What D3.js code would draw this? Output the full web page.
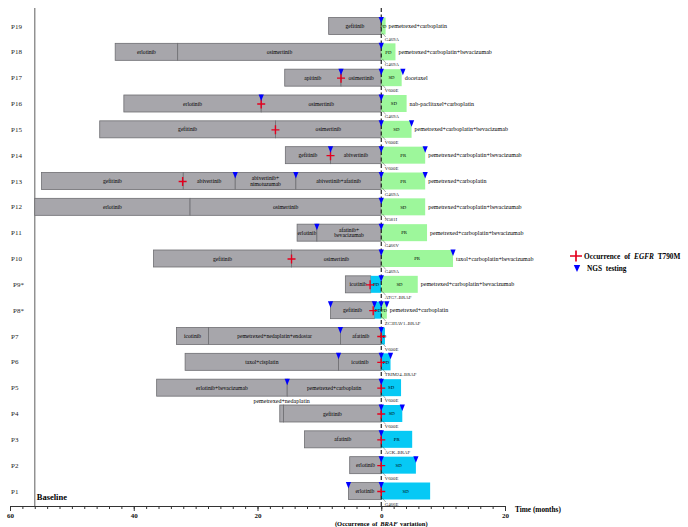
<!DOCTYPE html>
<html>
<head>
<meta charset="utf-8">
<script src="https://cdn.jsdelivr.net/npm/d3@7"></script>
<style>
body { margin: 0; background: #fff; }
svg text { font-family: 'Liberation Serif', 'Times New Roman', serif; }
</style>
</head>
<body>
<div id="canvas"></div>
<script>
// patients, top to bottom
var PATIENTS = ['P19', 'P18', 'P17', 'P16', 'P15', 'P14', 'P13', 'P12', 'P11', 'P10',
                'P9*', 'P8*', 'P7', 'P6', 'P5', 'P4', 'P3', 'P2', 'P1'];

// treatment lines before BRAF variation: [patient, start month, end month, drug]
var TREATMENTS = [
    ['P19', -8.5, 0, 'gefitinib'],
    ['P18', -43, -32.9, 'erlotinib'], ['P18', -32.9, 0, 'osimertinib'],
    ['P17', -15.6, -6.5, 'apitinib'], ['P17', -6.5, 0, 'osimertinib'],
    ['P16', -41.6, -19.4, 'erlotinib'], ['P16', -19.4, 0, 'osimertinib'],
    ['P15', -45.5, -17.1, 'gefitinib'], ['P15', -17.1, 0, 'osimertinib'],
    ['P14', -15.5, -8.2, 'gefitinib'], ['P14', -8.2, 0, 'abivertinib'],
    ['P13', -54.9, -32, 'gefitinib'], ['P13', -32, -23.6, 'abivertinib'],
    ['P13', -23.6, -13.8, 'abivertinib+\nnimotuzumab'], ['P13', -13.8, 0, 'abivertinib+afatinib'],
    ['P12', -56, -30.9, 'erlotinib'], ['P12', -30.9, 0, 'osimertinib'],
    ['P11', -13.6, -10.4, 'erlotinib'], ['P11', -10.4, 0, 'afatinib+\nbevacizumab'],
    ['P10', -36.8, -14.5, 'gefitinib'], ['P10', -14.5, 0, 'osimertinib'],
    ['P9*', -5.8, -1.7, 'icotinib'],
    ['P8*', -8.2, -1.1, 'gefitinib'],
    ['P7', -33.1, -27.9, 'icotinib'], ['P7', -27.9, -6.6, 'pemetrexed+nedaplatin+endostar'], ['P7', -6.6, 0, 'afatinib'],
    ['P6', -31.7, -6.9, 'taxol+cisplatin'], ['P6', -6.9, 0, 'icotinib'],
    ['P5', -36.3, -15.2, 'erlotinib+bevacizumab'], ['P5', -15.2, 0, 'pemetrexed+carboplatin'],
    ['P4', -16.4, -15.8, 'pemetrexed+nedaplatin'], ['P4', -15.8, 0, 'gefitinib'],
    ['P3', -12.4, 0, 'afatinib'],
    ['P2', -5.1, 0, 'erlotinib'],
    ['P1', -5.3, 0, 'erlotinib']
];

// short segments whose name is written above the bar
var ABOVE_LABELS = ['pemetrexed+nedaplatin'];

// response segments: [patient, start, end, response, kind]
var RESPONSES = [
    ['P19', 0, 0.7, 'PD', 'g'], ['P18', 0, 2.3, 'PD', 'g'], ['P17', 0, 3.3, 'SD', 'g'],
    ['P16', 0, 4.1, 'SD', 'g'], ['P15', 0, 4.9, 'SD', 'g'], ['P14', 0, 7.1, 'PR', 'g'],
    ['P13', 0, 7.1, 'PR', 'g'], ['P12', 0, 7.1, 'SD', 'g'], ['P11', 0, 7.4, 'PR', 'g'],
    ['P10', 0, 11.6, 'PR', 'g'],
    ['P9*', -1.7, 0, 'PD', 'b'], ['P9*', 0, 5.9, 'SD', 'g'],
    ['P8*', -1.1, 0, 'PD', 'b'], ['P8*', 0, 0.9, 'PD', 'g'],
    ['P7', 0, 0.6, 'PD', 'b'], ['P6', 0, 1.5, 'PD', 'b'], ['P5', 0, 3.2, 'SD', 'b'],
    ['P4', 0, 3.4, 'SD', 'b'], ['P3', 0, 5.0, 'PR', 'b'], ['P2', 0, 5.6, 'SD', 'b'],
    ['P1', 0, 7.9, 'SD', 'b']
];

// subsequent therapy after BRAF variation
var NEXT_LINES = [
    ['P19', 'pemetrexed+carboplatin'], ['P18', 'pemetrexed+carboplatin+bevacizumab'],
    ['P17', 'docetaxel'], ['P16', 'nab-paclitaxel+carboplatin'],
    ['P15', 'pemetrexed+carboplatin+bevacizumab'], ['P14', 'pemetrexed+carboplatin+bevacizumab'],
    ['P13', 'pemetrexed+carboplatin'], ['P12', 'pemetrexed+carboplatin+bevacizumab'],
    ['P11', 'pemetrexed+carboplatin+bevacizumab'], ['P10', 'taxol+carboplatin+bevacizumab'],
    ['P9*', 'pemetrexed+carboplatin+bevacizumab'], ['P8*', 'pemetrexed+carboplatin']
];

// BRAF variation found at month 0
var VARIANTS = [
    ['P19', 'G469A'], ['P18', 'G469A'], ['P17', 'V600E'], ['P16', 'G469A'], ['P15', 'V600E'],
    ['P14', 'V600E'], ['P13', 'G469A'], ['P12', 'N581I'], ['P11', 'G466V'], ['P10', 'G469A'],
    ['P9*', 'ATG7\u2013BRAF'], ['P8*', 'ZC3HAV1\u2013BRAF'], ['P7', 'V600E'], ['P6', 'TRIM24\u2013BRAF'],
    ['P5', 'V600E'], ['P4', 'V600E'], ['P3', 'AGK\u2013BRAF'], ['P2', 'V600E'], ['P1', 'G466E']
];

// NGS testing time points
var NGS = [
    ['P19', 0], ['P18', 0], ['P17', -6.5], ['P17', 0], ['P17', 3.5],
    ['P16', -19.4], ['P16', 0], ['P15', 0], ['P15', 4.9],
    ['P14', -8.2], ['P14', 0], ['P14', 7.1],
    ['P13', -23.6], ['P13', -13.8], ['P13', 0], ['P13', 7.1],
    ['P12', 0], ['P11', -10.4], ['P11', 0], ['P10', 0], ['P10', 11.6],
    ['P9*', 0], ['P8*', -8.2], ['P8*', -1.1], ['P8*', 0], ['P8*', 0.9],
    ['P7', -6.6], ['P7', 0], ['P6', -6.9], ['P6', 0], ['P6', 1.5],
    ['P5', -15.2], ['P5', 0], ['P4', 0], ['P4', 3.4], ['P3', 0],
    ['P2', 0], ['P2', 5.6], ['P1', -5.3], ['P1', 0]
];

// occurrence of EGFR T790M
var T790M = [
    ['P17', -6.5], ['P16', -19.4], ['P15', -17.1], ['P14', -8.2], ['P13', -32.1],
    ['P10', -14.5], ['P9*', -1.8], ['P8*', -1.3], ['P7', 0], ['P6', 0], ['P5', 0],
    ['P4', 0], ['P3', 0], ['P2', 0], ['P1', 0]
];

var MAJOR_TICKS = [-60, -40, -20, 0, 20];
var BASELINE = -56;

var WIDTH = 688, HEIGHT = 527;
var BAR_H = 17;
var GRAY = '#a7a6ab', GREEN = '#9df79b', BLUE = '#06c9f5';

var svg = d3.select('#canvas').append('svg')
    .attr('width', WIDTH)
    .attr('height', HEIGHT);

var x = d3.scaleLinear().domain([-60, 20]).range([10, 505]);
var y = d3.scalePoint().domain(PATIENTS).range([26, 491]);
var AXIS_Y = 506;

// baseline line
svg.append('line')
    .attr('x1', x(BASELINE)).attr('x2', x(BASELINE))
    .attr('y1', 8).attr('y2', AXIS_Y)
    .attr('stroke', '#8c8c8c').attr('stroke-width', 1.4);

svg.append('text')
    .attr('x', x(BASELINE) + 2).attr('y', 500)
    .style('font-size', '8.5px').style('font-weight', 'bold')
    .text('Baseline');

// row labels
svg.selectAll('.plabel').data(PATIENTS).enter().append('text')
    .attr('class', 'plabel')
    .attr('x', function(d) { return d.indexOf('*') >= 0 ? 13 : 11; })
    .attr('y', function(d) { return y(d) + 2.5; })
    .attr('fill', '#222')
    .style('font-size', '7px')
    .text(function(d) { return d; });

// treatment bars
var tg = svg.append('g');
TREATMENTS.forEach(function(t) {
    var cy = y(t[0]);
    tg.append('rect')
        .attr('x', x(t[1])).attr('y', cy - BAR_H / 2)
        .attr('width', x(t[2]) - x(t[1])).attr('height', BAR_H)
        .attr('fill', GRAY).attr('stroke', '#6e6e72').attr('stroke-width', 0.8);
    var lines = t[3].split('\n');
    var cx = (x(t[1]) + x(t[2])) / 2;
    if (ABOVE_LABELS.indexOf(t[3]) >= 0) {
        tg.append('text')
            .attr('x', cx).attr('y', cy - BAR_H / 2 - 2)
            .attr('text-anchor', 'middle')
            .style('font-size', '6px')
            .text(t[3]);
        return;
    }
    var txt = tg.append('text')
        .attr('text-anchor', 'middle')
        .style('font-size', '5.6px');
    lines.forEach(function(l, i) {
        txt.append('tspan')
            .attr('x', cx)
            .attr('y', cy + 2 + (i - (lines.length - 1) / 2) * 5.5)
            .text(l);
    });
});

// response bars
var rg = svg.append('g');
RESPONSES.forEach(function(r) {
    var cy = y(r[0]);
    rg.append('rect')
        .attr('x', x(r[1])).attr('y', cy - BAR_H / 2)
        .attr('width', x(r[2]) - x(r[1])).attr('height', BAR_H)
        .attr('fill', r[4] == 'g' ? GREEN : BLUE);
    rg.append('text')
        .attr('x', (x(r[1]) + x(r[2])) / 2).attr('y', cy + 1.8)
        .attr('text-anchor', 'middle')
        .style('font-size', '4.8px')
        .text(r[3]);
});

// next therapy text
NEXT_LINES.forEach(function(n) {
    var ends = RESPONSES.filter(function(r) { return r[0] == n[0]; }).map(function(r) { return r[2]; });
    svg.append('text')
        .attr('x', x(d3.max(ends)) + 3).attr('y', y(n[0]) + 2)
        .style('font-size', '6px')
        .text(n[1]);
});

// dashed line at BRAF variation
svg.append('line')
    .attr('x1', x(0)).attr('x2', x(0))
    .attr('y1', 8).attr('y2', AXIS_Y)
    .attr('stroke', '#111').attr('stroke-width', 1.1)
    .attr('stroke-dasharray', '4,2.5');

// variant labels
VARIANTS.forEach(function(v) {
    var cy = y(v[0]);
    svg.append('line')
        .attr('x1', x(0) + 1).attr('y1', cy + 7)
        .attr('x2', x(0) + 4.5).attr('y2', cy + 11)
        .attr('stroke', '#555').attr('stroke-width', 0.5);
    svg.append('text')
        .attr('x', x(0) + 3.5).attr('y', cy + 14.5)
        .style('font-size', '4.8px').attr('fill', '#222')
        .text(v[1]);
});

// T790M crosses
T790M.forEach(function(c) {
    svg.append('path')
        .attr('transform', 'translate(' + x(c[1]) + ',' + (y(c[0]) + 0.5) + ')')
        .attr('d', 'M-4,0H4M0,-4.5V4.5')
        .attr('stroke', '#e3001e').attr('stroke-width', 1.4);
});

// NGS triangles
NGS.forEach(function(n) {
    svg.append('path')
        .attr('transform', 'translate(' + x(n[1]) + ',' + (y(n[0]) - BAR_H / 2 - 0.5) + ')')
        .attr('d', 'M-2.6,0L2.6,0L0,6.5Z')
        .attr('fill', '#0000ff');
});

// x axis: minor and major ticks
var minor = d3.range(-60, 21, 2);
svg.append('g')
    .attr('transform', 'translate(0,' + AXIS_Y + ')')
    .call(d3.axisBottom(x).tickValues(minor).tickSize(3).tickSizeOuter(0).tickFormat(''))
    .call(function(g) {
        g.select('.domain').attr('stroke', '#333').attr('stroke-width', 1.2);
        g.selectAll('.tick line').attr('stroke', '#333').attr('stroke-width', 1);
    });

svg.append('g')
    .attr('transform', 'translate(0,' + AXIS_Y + ')')
    .call(d3.axisBottom(x).tickValues(MAJOR_TICKS).tickSize(5).tickFormat(function(d) { return Math.abs(d); }))
    .call(function(g) {
        g.select('.domain').remove();
        g.selectAll('.tick line').attr('stroke', '#333').attr('stroke-width', 1);
        g.selectAll('.tick text')
            .attr('y', 7)
            .style('font-family', "'Liberation Serif', serif")
            .style('font-size', '7px').style('font-weight', 'bold').attr('fill', '#111');
    });

var occ = svg.append('text')
    .attr('x', x(0)).attr('y', 525.5)
    .attr('text-anchor', 'middle')
    .style('font-size', '6.5px').style('font-weight', 'bold')
    .style('word-spacing', '1px');
occ.append('tspan').text('(Occurrence of ');
occ.append('tspan').style('font-style', 'italic').text('BRAF');
occ.append('tspan').text(' variation)');

svg.append('text')
    .attr('x', 515).attr('y', 512)
    .style('font-size', '7.3px').style('font-weight', 'bold')
    .text('Time (months)');

// legend
svg.append('path')
    .attr('transform', 'translate(576,256)')
    .attr('d', 'M-6,0H6M0,-5.5V5.5')
    .attr('stroke', '#e3001e').attr('stroke-width', 1.7);
var lt = svg.append('text')
    .attr('x', 584).attr('y', 258.5)
    .style('font-size', '7.3px').style('font-weight', 'bold')
    .style('word-spacing', '2px');
lt.append('tspan').text('Occurrence of ');
lt.append('tspan').style('font-style', 'italic').text('EGFR');
lt.append('tspan').text(' T790M');

svg.append('path')
    .attr('transform', 'translate(577,265)')
    .attr('d', 'M-3.2,0L3.2,0L0,7Z')
    .attr('fill', '#0000ff');
svg.append('text')
    .attr('x', 587).attr('y', 271)
    .style('font-size', '7.3px').style('font-weight', 'bold')
    .style('word-spacing', '2px')
    .text('NGS testing');
</script>
</body>
</html>
